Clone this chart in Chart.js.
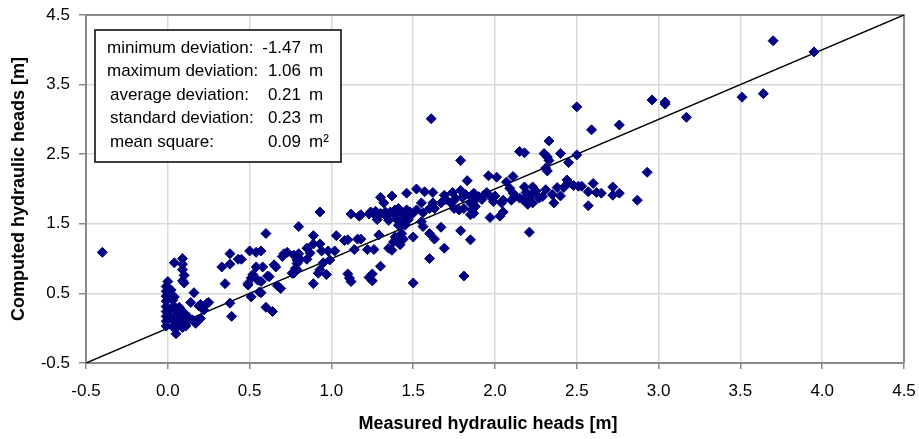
<!DOCTYPE html>
<html><head><meta charset="utf-8">
<script src="https://cdn.jsdelivr.net/npm/chart.js@4/dist/chart.umd.min.js"></script>
<style>html,body{margin:0;padding:0;background:#fff}#wrap{width:919px;height:439px}</style>
</head><body><div id="wrap"><canvas id="c" width="919" height="439"></canvas></div>
<script>
const measured = [
3.70,3.95,2.96,3.04,3.04,3.17,2.76,3.51,3.64,2.93,2.72,2.72,2.76,2.87,2.65,
2.50,2.59,2.33,2.15,2.18,2.30,2.32,2.33,2.40,2.45,2.50,2.31,2.32,2.11,1.96,
2.01,2.07,2.44,2.45,2.51,2.53,2.60,2.57,2.62,2.18,2.23,2.31,2.38,2.40,2.36,
2.29,2.27,2.57,2.09,2.11,2.12,2.19,2.22,2.21,2.20,2.23,2.15,2.17,2.05,2.04,
2.05,2.03,1.98,1.99,1.93,1.90,1.87,1.85,1.87,1.85,1.88,1.86,1.87,1.97,1.85,
2.21,1.79,1.83,1.52,1.57,1.62,1.46,1.30,1.37,1.69,1.74,1.79,1.55,1.62,1.63,
1.67,1.73,1.75,1.78,1.81,1.85,1.24,1.27,1.26,1.30,1.33,1.36,1.38,1.39,1.41,
1.42,1.44,1.46,1.48,1.49,1.47,1.44,1.40,1.41,1.45,1.18,1.55,1.56,1.60,1.63,
1.67,1.50,1.43,1.39,1.40,1.38,1.35,1.37,1.42,1.44,1.29,1.22,1.26,1.69,1.60,
1.30,1.25,1.25,1.50,1.79,1.81,1.18,1.61,0.93,1.12,1.17,1.23,0.80,0.60,0.89,
1.03,1.08,1.10,1.16,0.93,0.85,0.87,0.94,0.98,1.02,1.14,0.71,0.73,0.70,0.80,
0.81,0.79,0.78,0.85,0.76,0.95,0.99,0.92,0.97,0.93,0.89,1.10,1.11,1.12,1.23,
0.50,0.57,0.45,0.58,0.65,0.66,0.62,0.52,0.51,0.49,0.55,0.57,0.57,0.51,0.67,
0.69,0.60,0.64,0.04,0.09,0.09,0.09,0.10,0.09,0.10,0.00,-0.01,-0.01,-0.01,-0.01,
-0.01,-0.01,-0.01,-0.01,-0.01,0.04,0.16,0.14,0.04,0.05,0.06,0.20,0.24,0.25,0.22,
0.20,0.01,0.09,0.12,0.15,0.17,0.07,0.03,0.05,0.09,0.05,0.38,0.39,0.33,0.38,
0.38,0.43,0.35,0.54,0.54,0.56,0.19,0.18,-0.40,0.77,0.79,0.77,0.79,0.49,0.61,
0.89,0.02,0.03,0.02,0.03,0.06,0.08,0.11,0.13,0.07,0.10,1.33,1.45,1.52,1.56,
1.60,1.70,1.76,1.80,1.82,1.92,1.95,2.00,2.10,2.25,2.35,2.42,2.48,1.32,1.35,1.28
];
const computed = [
4.13,3.97,3.28,3.22,3.25,3.03,2.92,3.32,3.37,2.24,2.03,1.91,1.94,1.84,1.94,
3.18,2.85,2.69,2.54,2.52,2.51,2.46,2.41,2.51,2.38,2.49,2.30,2.26,2.18,2.19,
2.17,2.10,2.13,2.09,2.04,2.04,2.08,1.96,1.95,2.03,2.03,1.99,2.02,1.90,1.80,
1.89,1.87,1.76,2.01,1.94,1.89,1.95,1.91,1.84,1.78,1.80,1.87,1.85,1.84,1.80,
1.67,1.61,1.87,1.82,1.91,1.89,1.94,1.89,1.82,1.80,1.75,1.70,1.65,1.59,1.27,
1.38,2.41,2.12,2.00,1.96,1.95,1.94,1.88,1.90,1.91,1.95,1.98,1.80,1.80,1.72,
1.80,1.80,1.72,1.70,1.72,1.63,1.67,1.68,1.64,1.65,1.67,1.67,1.64,1.70,1.72,
1.67,1.65,1.70,1.67,1.63,1.56,1.53,1.56,1.48,1.48,1.63,1.53,1.46,1.36,1.28,
1.45,1.31,1.36,1.31,1.27,1.24,1.15,1.12,1.20,1.28,1.34,1.13,1.13,1.15,1.00,
0.89,0.78,0.68,0.65,1.40,0.75,1.28,3.01,1.67,1.64,1.61,1.64,1.46,1.36,1.33,
1.33,1.26,1.27,1.28,1.21,1.15,1.08,1.11,1.11,1.11,1.13,1.07,1.09,1.03,1.07,
0.99,0.93,0.86,0.99,0.79,0.94,0.98,0.79,0.77,0.84,0.64,0.78,0.72,0.67,0.73,
1.11,1.11,0.99,0.88,0.91,0.88,0.74,0.77,0.72,0.64,0.69,0.67,0.51,0.45,0.61,
0.57,0.30,0.24,0.94,1.00,0.92,0.84,0.76,0.68,0.65,0.67,0.60,0.53,0.46,0.39,
0.31,0.24,0.17,0.10,0.03,0.45,0.51,0.37,0.31,0.26,0.21,0.34,0.36,0.37,0.26,
0.14,0.17,0.14,0.09,0.12,0.07,0.05,0.02,0.00,0.01,-0.08,0.36,0.17,0.88,1.07,
0.92,0.99,0.64,1.09,0.88,0.52,0.32,0.10,1.09,1.05,0.98,0.79,0.84,0.62,0.75,
1.21,0.55,0.40,0.28,0.12,0.10,0.05,0.03,0.15,0.30,0.22,1.62,1.60,1.70,1.66,
1.72,1.85,1.86,1.88,1.92,1.85,1.95,1.90,1.84,1.97,1.92,2.02,2.05,1.80,1.55,1.56
];
const xTicks = [-0.5, 0.0, 0.5, 1.0, 1.5, 2.0, 2.5, 3.0, 3.5, 4.0, 4.5];
const yTicks = [-0.5, 0.5, 1.5, 2.5, 3.5, 4.5];
const lineX = [-0.5, 4.5];
const lineY = [-0.5, 4.5];
const xTitle = 'Measured hydraulic heads [m]';
const yTitle = 'Computed hydraulic heads [m]';
const statLabels = ['minimum deviation:', 'maximum deviation:', 'average deviation:', 'standard deviation:', 'mean square:'];
const statValues = ['-1.47', '1.06', '0.21', '0.23', '0.09'];
const statUnits = ['m', 'm', 'm', 'm', 'm²'];

const FONT = "'Liberation Sans', Arial, sans-serif";
const GRID = '#d9d9d9';
const AXIS = '#8a8a8a';

const framePlugin = {
  id: 'frame',
  beforeDatasetsDraw(chart) {
    const {ctx, chartArea: a} = chart;
    ctx.save();
    ctx.strokeStyle = AXIS;
    ctx.lineWidth = 2;
    ctx.beginPath();
    ctx.moveTo(a.left, a.top); ctx.lineTo(a.right, a.top); ctx.lineTo(a.right, a.bottom);
    ctx.stroke();
    ctx.restore();
  },
  afterDraw(chart) {
    const {ctx, chartArea: a} = chart;
    ctx.save();
    ctx.fillStyle = '#000';
    ctx.font = "bold 18px " + FONT;
    ctx.textAlign = 'center';
    ctx.textBaseline = 'middle';
    ctx.fillText(xTitle, 488, 424);
    ctx.translate(19, (a.top + a.bottom) / 2);
    ctx.rotate(-Math.PI / 2);
    ctx.fillText(yTitle, 0, 0);
    ctx.restore();
    ctx.save();
    const bx = 95, by = 30, bw = 246, bh = 132;
    ctx.fillStyle = '#fff';
    ctx.fillRect(bx, by, bw, bh);
    ctx.strokeStyle = '#000';
    ctx.lineWidth = 1.5;
    ctx.strokeRect(bx, by, bw, bh);
    ctx.fillStyle = '#000';
    ctx.font = "17px " + FONT;
    ctx.textBaseline = 'middle';
    for (let i = 0; i < statLabels.length; i++) {
      const y = 48 + i * 23.5;
      ctx.textAlign = 'left';
      ctx.fillText(statLabels[i], i < 2 ? 107 : 110, y);
      ctx.textAlign = 'right';
      ctx.fillText(statValues[i], 301, y);
      ctx.textAlign = 'left';
      ctx.fillText(statUnits[i], 309, y);
    }
    ctx.restore();
  }
};

new Chart(document.getElementById('c'), {
  type: 'scatter',
  data: {
    datasets: [
      {
        label: 'points',
        data: measured.map((x, i) => ({x: x, y: computed[i]})),
        pointStyle: 'rectRot',
        pointRadius: 5,
        backgroundColor: '#000080',
        borderColor: '#000080',
        borderWidth: 1,
        order: 1
      },
      {
        label: 'line',
        data: lineX.map((x, i) => ({x: x, y: lineY[i]})),
        showLine: true,
        pointRadius: 0,
        borderColor: '#000',
        borderWidth: 1.5,
        order: 2
      }
    ]
  },
  options: {
    responsive: false,
    animation: false,
    devicePixelRatio: 1,
    layout: {padding: {left: 0, right: 15, top: 15, bottom: 0}},
    plugins: {legend: {display: false}, tooltip: {enabled: false}},
    scales: {
      x: {
        type: 'linear', min: -0.5, max: 4.5,
        afterBuildTicks: s => { s.ticks = xTicks.map(v => ({value: v})); },
        afterFit: s => { s.height = 76; s.paddingLeft = 0; s.paddingRight = 0; },
        ticks: {callback: v => Number(v).toFixed(1), color: '#000', font: {family: FONT, size: 17}, padding: 12, maxRotation: 0, autoSkip: false},
        grid: {color: GRID, lineWidth: 1.5, tickColor: AXIS, tickLength: 6},
        border: {color: AXIS, width: 2}
      },
      y: {
        type: 'linear', min: -0.5, max: 4.5,
        afterBuildTicks: s => { s.ticks = yTicks.map(v => ({value: v})); },
        afterFit: s => { s.width = 86; s.paddingTop = 0; s.paddingBottom = 0; },
        ticks: {callback: v => Number(v).toFixed(1), color: '#000', font: {family: FONT, size: 17}, padding: 9, autoSkip: false},
        grid: {color: GRID, lineWidth: 1.5, tickColor: AXIS, tickLength: 7},
        border: {color: AXIS, width: 2}
      }
    }
  },
  plugins: [framePlugin]
});
</script>
</body></html>
